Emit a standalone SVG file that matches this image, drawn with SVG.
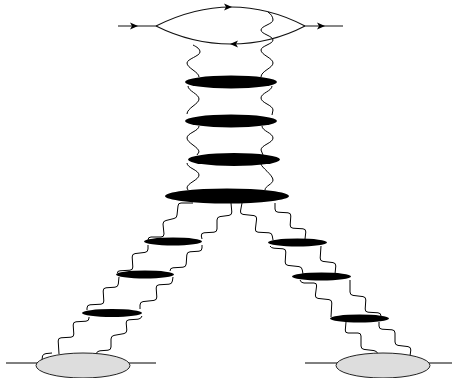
<svg xmlns="http://www.w3.org/2000/svg" width="452" height="378" viewBox="0 0 452 378">
<style>
.w{fill:none;stroke:#000;stroke-width:1}
.l{fill:none;stroke:#111;stroke-width:1.1;marker-mid:url(#a)}
.k{fill:#000;stroke:none}
.b{fill:#ddd;stroke:#222;stroke-width:1}
</style>
<defs>
<marker id="a" markerUnits="userSpaceOnUse" markerWidth="10" markerHeight="8" refX="4" refY="3.5" orient="auto" overflow="visible">
<path d="M-3 0L5 3.5L-3 7L-1 3.5Z" fill="#000"/>
</marker>
</defs>
<rect width="452" height="378" fill="#fff"/>
<g id="connectors">
<path class="l" d="M118 26L137 26L156 26"/>
<path class="l" d="M305 26L324 26L343 26"/>
<path class="l" d="M156 26C180 14 205 7 231 7C258 7 282 14 305 26"/>
<path class="l" d="M305 26C282 38 258 44 231 44C205 44 180 38 156 26"/>
<path class="w" d="M6 363H156M305 363H452"/>
<path class="w" d="M268 12C271 14 273 17 273 20C273 24 261 26 261 30C261 34 273 36 273 40C273 44 261 46 261 50C261 55 273 58 273 63C273 68 261 71 261 77"/>
<path class="w" d="M193 45C197 47 200 49 200 52C200 56 187 59 187 63C187 68 199 72 199 77"/>
<path class="w" d="M188 86C188 91 199 94 199 99C199 104 187 108 187 114"/>
<path class="w" d="M272 86C272 91 261 93 261 98C261 103 273 105 273 110L272 115"/>
<path class="w" d="M199 126C199 131 187 133 187 138C187 143 199 147 199 152L197 155"/>
<path class="w" d="M262 126C262 131 273 133 273 138C273 143 261 145 261 150L263 155"/>
<path class="w" d="M187 163C187 168 199 170 199 175C199 180 187 183 187 188L188 190"/>
<path class="w" d="M261 164C261 167 273 175 273 180C273 184 265 186 265 190"/>
<path class="w" d="M193 203L181 203Q178 203 178 206L177 215Q177 218 174 218.500L166 220.500Q163 221 163 224L164 234Q164 237 161 237L151 237Q148 237 148 240"/>
<path class="w" d="M148 245L148 249Q148 252 145 252.400L135 253.600Q132 254 132.200 257L132.800 267Q133 270 130 270.200L120 270.800Q117 271 117.500 273"/>
<path class="w" d="M119 277L118.300 284Q118 287 115 287.200L106 287.800Q103 288 103.200 291L103.800 301Q104 304 101 304.200L90 304.800Q87 305 87 308L87 310"/>
<path class="w" d="M89 317L89 318Q89 321 86 321.200L76 321.800Q73 322 73.200 325L73.800 334Q74 337 71 337.200L61 337.800Q58 338 58.200 341L59 354"/>
<path class="w" d="M42 360L42.500 356Q43 354 46 353.600L52 353"/>
<path class="w" d="M231 203L231.800 212Q232 215 229 215.400L220 216.600Q217 217 217 220L217 229Q217 232 214 232.200L204 232.800Q201 233 201.300 236L202 239"/>
<path class="w" d="M202 245L202 248Q202 251 199 251.200L190 251.800Q187 252 186.800 255L186.200 264Q186 267 183 267.200L173 267.800Q170 268 170 271"/>
<path class="w" d="M173 277L172.400 281Q172 284 169 284.200L159 284.800Q156 285 156.200 288L156.800 297Q157 300 154 300.400L143 301.600Q140 302 140 305L140 309"/>
<path class="w" d="M142 316Q141 319 138 319.200L129 319.800Q126 320 126.200 323L126.800 330Q127 333 124 333.600L114 335.400Q111 336 111 339L111 347Q111 350 108 350.200L100 350.800Q97 351 96 354"/>
<path class="w" d="M242 203L240.500 211Q240 214 243 214.400L254 215.600Q257 216 256.600 219L255.400 229Q255 232 258 232.200L269 232.800Q272 233 272.300 236L273 240"/>
<path class="w" d="M270 246Q271 248 274 248.200L283 248.800Q286 249 285.800 252L285.200 262Q285 265 288 265.400L299 266.600Q302 267 302.300 270L303 274"/>
<path class="w" d="M300 280Q301 283 304 283L314 283Q317 283 316.600 286L315.400 295Q315 298 318 298.400L329 299.600Q332 300 331.800 303L331 317"/>
<path class="w" d="M346 322L345.300 330Q345 333 348 333L358 333Q361 333 361 336L361 346Q361 349 364 349.400L374 350.600Q377 351 378 354"/>
<path class="w" d="M275 203L275 209Q275 212 278 212.200L288 212.800Q291 213 290.800 216L290.200 225Q290 228 293 228.200L303 228.800Q306 229 305.800 232L305 239"/>
<path class="w" d="M321 246L320.200 258Q320 261 323 261.400L333 262.600Q336 263 335.800 266L335 274"/>
<path class="w" d="M350 280L350 292Q350 295 353 295.400L363 296.600Q366 297 365.800 300L365.200 309Q365 312 368 312.200L378 312.800Q381 313 381 316"/>
<path class="w" d="M379 322L379 326Q379 329 382 329.200L392 329.800Q395 330 395 333L395 342Q395 345 398 345.400L408 346.600Q411 347 410.800 350L410 356"/>
</g>
<g id="n1"><ellipse class="k" cx="231" cy="82" rx="46" ry="6.500"/></g>
<g id="n2"><ellipse class="k" cx="231" cy="121" rx="46" ry="6.500"/></g>
<g id="n3"><ellipse class="k" cx="234" cy="159.500" rx="46" ry="6.500"/></g>
<g id="n4"><ellipse class="k" cx="227" cy="196" rx="62" ry="7.500"/></g>
<g id="n5"><ellipse class="k" cx="173" cy="241.500" rx="29" ry="4"/></g>
<g id="n6"><ellipse class="k" cx="145" cy="274.500" rx="29" ry="4"/></g>
<g id="n7"><ellipse class="k" cx="112" cy="313" rx="30" ry="4"/></g>
<g id="n8"><ellipse class="k" cx="297.500" cy="242.500" rx="29.500" ry="4"/></g>
<g id="n9"><ellipse class="k" cx="321.500" cy="276.500" rx="29.500" ry="4"/></g>
<g id="n10"><ellipse class="k" cx="359.500" cy="318.500" rx="29.500" ry="4"/></g>
<g id="n11"><ellipse class="b" cx="83" cy="365.500" rx="47" ry="12.500"/></g>
<g id="n12"><ellipse class="b" cx="383" cy="365.500" rx="47" ry="12.500"/></g>
</svg>
